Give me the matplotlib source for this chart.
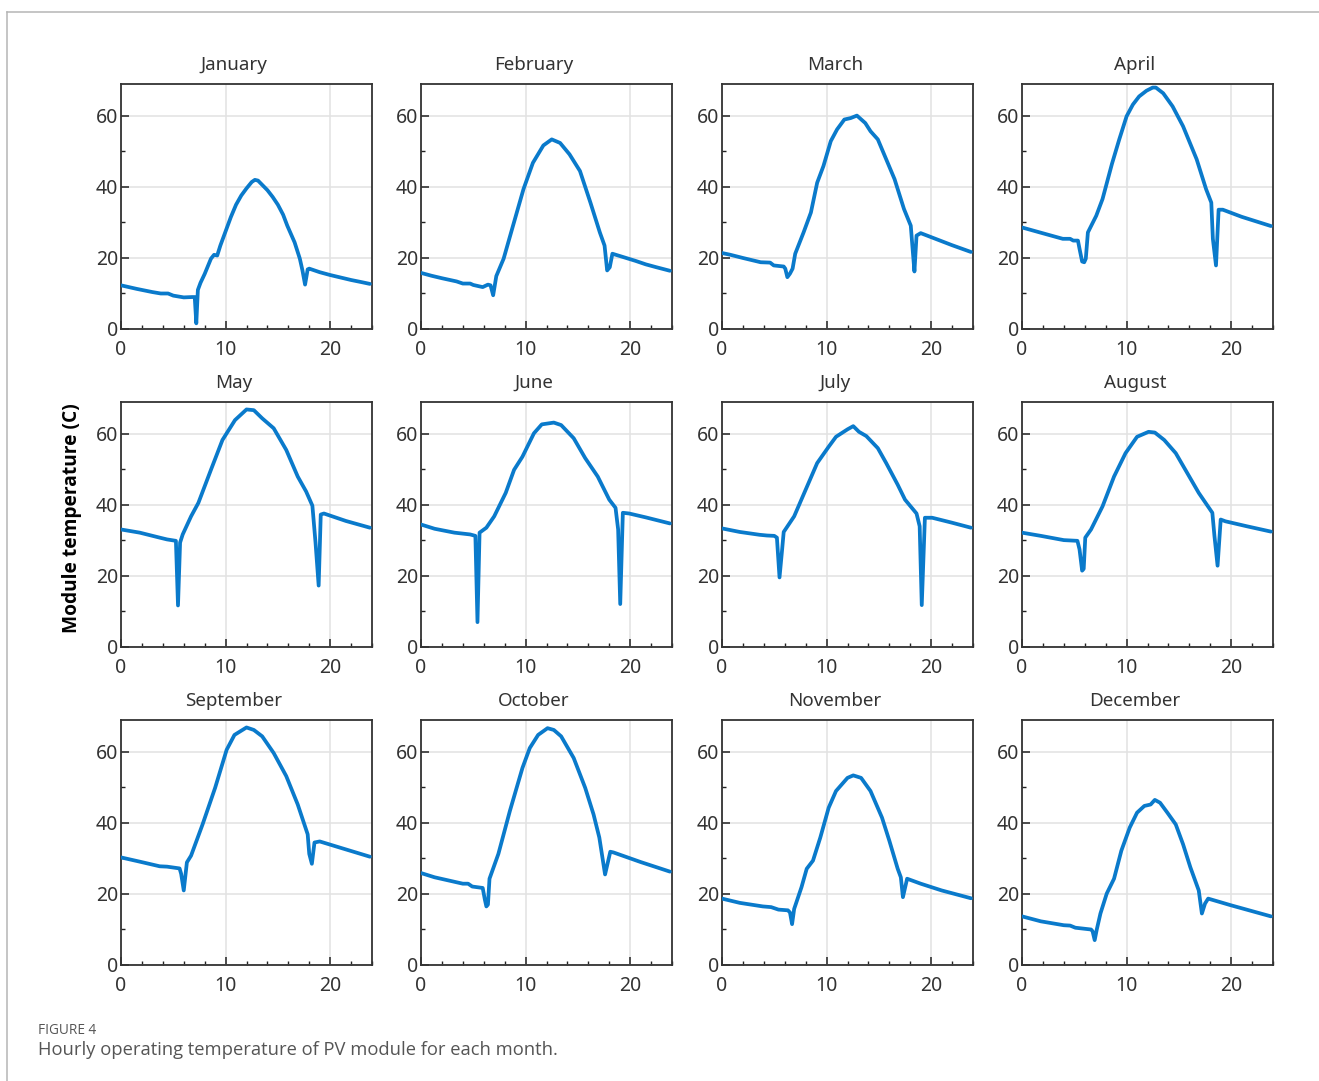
import matplotlib
matplotlib.use("Agg")
import matplotlib.pyplot as plt
from matplotlib.lines import Line2D
from matplotlib.ticker import MultipleLocator

# ---- hourly module temperature profiles (hour of day, deg C) ----
jan_h = [0, 1.5, 3.0, 3.8, 4.5, 5.0, 6.0, 6.8, 7.05, 7.2, 7.35, 7.6, 8.0, 8.6, 8.9, 9.2,
         9.5, 10.0, 10.5, 11.0, 11.5, 12.0, 12.5, 12.8, 13.1, 13.5, 14.0, 14.5, 15.0,
         15.5, 15.9, 16.6, 17.1, 17.35, 17.6, 17.85, 18.0, 19.0, 20.0, 21.0, 22.0, 23.0, 23.8]
jan_t = [12.3, 11.3, 10.4, 10.0, 10.0, 9.4, 8.9, 9.0, 9.0, 1.6, 11.0, 13.0, 15.5, 19.8, 20.9, 20.7,
         23.5, 27.5, 31.5, 35.0, 37.6, 39.6, 41.4, 42.0, 41.8, 40.6, 39.1, 37.2, 35.0,
         32.2, 29.1, 24.4, 19.8, 16.5, 12.5, 16.8, 17.0, 16.0, 15.2, 14.5, 13.8, 13.2, 12.7]

feb_h = [0, 1.0, 2.0, 3.4, 4.0, 4.7, 5.0, 5.9, 6.4, 6.65, 6.9, 7.2, 7.9, 8.8, 9.8, 10.7,
         11.7, 12.5, 13.3, 14.2, 15.2, 16.2, 17.1, 17.55, 17.8, 18.05, 18.3, 19.4, 20.5,
         21.5, 22.5, 23.8]
feb_t = [15.8, 15.0, 14.3, 13.4, 12.8, 12.8, 12.4, 11.8, 12.5, 12.3, 9.5, 14.9, 19.8, 29.1, 39.4, 46.8,
         51.7, 53.4, 52.4, 49.2, 44.5, 35.6, 27.2, 23.5, 16.5, 17.4, 21.2, 20.2, 19.2,
         18.2, 17.4, 16.4]

mar_h = [0, 0.8, 2.0, 3.7, 4.6, 4.95, 5.9, 6.05, 6.25, 6.5, 6.75, 7.0, 7.8, 8.5, 9.1, 9.7,
         10.4, 11.0, 11.7, 12.3, 12.9, 13.7, 14.2, 14.9, 15.5, 16.5, 17.4, 18.05, 18.2, 18.4,
         18.6, 19.0, 20.5, 22.0, 23.8]
mar_t = [21.4, 20.9, 20.0, 18.8, 18.7, 17.9, 17.6, 17.0, 14.6, 15.6, 17.0, 21.2, 27.2, 32.8, 41.2, 45.9,
         52.9, 56.2, 59.0, 59.4, 60.1, 58.0, 55.7, 53.4, 49.2, 42.2, 33.8, 29.1, 23.5, 16.2,
         26.3, 27.0, 25.3, 23.6, 21.7]

apr_h = [0, 1.7, 3.9, 4.6, 4.9, 5.35, 5.5, 5.75, 5.95, 6.1, 6.3, 7.1, 7.7, 8.6, 9.3, 10.0,
         10.6, 11.2, 11.9, 12.5, 12.8, 13.5, 14.4, 15.4, 16.7, 17.6, 18.1, 18.25, 18.55, 18.8,
         19.2, 21.0, 23.8]
apr_t = [28.6, 27.2, 25.4, 25.4, 24.9, 24.9, 22.6, 19.0, 18.8, 19.8, 27.2, 31.9, 36.6, 46.5, 53.4, 59.9,
         63.2, 65.5, 67.1, 68.0, 68.0, 66.4, 62.7, 57.1, 47.8, 39.4, 35.6, 25.4, 17.9, 33.6,
         33.6, 31.6, 29.0]

may_h = [0, 1.8, 3.7, 4.4, 5.25, 5.45, 5.65, 5.9, 6.7, 7.4, 8.6, 9.7, 10.9, 12.0, 12.7, 13.5,
         14.6, 15.8, 16.9, 17.7, 18.3, 18.6, 18.9, 19.1, 19.4, 21.5, 23.8]
may_t = [33.1, 32.2, 30.8, 30.3, 29.9, 11.7, 29.4, 31.7, 36.8, 40.6, 49.9, 58.3, 63.9, 66.9, 66.7, 64.4,
         61.6, 55.5, 48.0, 43.8, 39.8, 29.4, 17.3, 37.3, 37.6, 35.5, 33.6]

jun_h = [0, 1.3, 3.2, 4.7, 5.2, 5.4, 5.6, 6.25, 7.0, 8.1, 8.9, 9.7, 10.8, 11.55, 12.7, 13.4,
         14.6, 15.7, 16.9, 18.0, 18.6, 18.85, 19.05, 19.3, 19.9, 21.5, 23.8]
jun_t = [34.5, 33.3, 32.2, 31.7, 31.3, 7.0, 32.2, 33.6, 36.8, 43.4, 49.9, 53.6, 60.2, 62.7, 63.2, 62.5,
         58.8, 53.2, 48.0, 41.5, 39.2, 33.1, 12.1, 37.8, 37.6, 36.5, 34.8]

jul_h = [0, 1.7, 3.6, 4.3, 5.0, 5.25, 5.5, 5.75, 5.9, 6.9, 8.0, 9.1, 10.2, 10.9, 12.0, 12.55,
         13.1, 13.8, 14.9, 15.7, 16.8, 17.5, 18.6, 18.9, 19.1, 19.4, 20.1, 22.0, 23.8]
jul_t = [33.4, 32.4, 31.6, 31.4, 31.3, 30.8, 19.6, 27.5, 32.4, 36.8, 44.3, 51.8, 56.4, 59.2, 61.3, 62.2,
         60.6, 59.4, 56.0, 51.8, 45.7, 41.5, 37.6, 34.0, 11.8, 36.4, 36.4, 35.0, 33.6]

aug_h = [0, 1.8, 4.0, 5.3, 5.5, 5.75, 5.9, 6.05, 6.6, 7.7, 8.8, 9.9, 11.0, 12.1, 12.7, 13.6,
         14.7, 15.8, 16.9, 18.2, 18.4, 18.7, 19.0, 19.45, 21.5, 23.8]
aug_t = [32.2, 31.3, 30.1, 29.9, 27.5, 21.5, 22.0, 30.8, 33.1, 39.6, 48.0, 54.6, 59.2, 60.6, 60.4, 58.3,
         54.6, 49.0, 43.4, 37.8, 31.3, 22.9, 35.9, 35.4, 34.0, 32.5]

sep_h = [0, 1.8, 3.7, 4.4, 5.6, 5.75, 6.0, 6.3, 6.7, 7.8, 9.0, 10.1, 10.85, 12.0, 12.7, 13.5,
         14.6, 15.8, 16.9, 17.85, 18.0, 18.25, 18.5, 19.0, 21.0, 23.8]
sep_t = [30.3, 29.1, 27.8, 27.7, 27.2, 25.7, 21.0, 28.9, 30.8, 39.6, 49.9, 60.6, 64.8, 66.9, 66.2, 64.4,
         59.7, 53.2, 45.2, 36.8, 31.3, 28.5, 34.5, 34.8, 33.0, 30.5]

oct_h = [0, 1.3, 4.0, 4.5, 4.9, 5.9, 6.1, 6.25, 6.4, 6.55, 7.4, 8.5, 9.7, 10.4, 11.2, 12.1,
         12.7, 13.4, 14.6, 15.7, 16.5, 17.05, 17.6, 18.1, 18.4, 21.0, 23.8]
oct_t = [25.9, 24.7, 22.9, 22.9, 22.1, 21.7, 18.5, 16.5, 17.0, 24.3, 31.3, 43.4, 55.5, 61.1, 64.8, 66.7,
         66.2, 64.4, 58.3, 49.9, 42.4, 35.9, 25.5, 31.9, 31.7, 29.0, 26.3]

nov_h = [0, 1.7, 3.9, 4.7, 5.4, 6.3, 6.5, 6.7, 6.9, 7.6, 8.1, 8.7, 9.4, 10.2, 10.9, 12.0,
         12.55, 13.3, 14.2, 15.3, 16.0, 16.8, 17.1, 17.3, 17.7, 19.0, 21.0, 23.8]
nov_t = [18.7, 17.5, 16.5, 16.3, 15.6, 15.4, 14.8, 11.5, 15.8, 21.9, 27.1, 29.4, 35.9, 44.3, 49.0, 52.7,
         53.4, 52.7, 49.0, 41.5, 35.0, 27.1, 24.7, 19.1, 24.3, 22.9, 21.0, 18.8]

dec_h = [0, 1.8, 4.0, 4.6, 5.1, 6.6, 6.75, 6.95, 7.15, 7.5, 8.1, 8.8, 9.5, 10.3, 11.0, 11.7,
         12.3, 12.7, 13.2, 13.9, 14.7, 15.4, 16.1, 16.9, 17.2, 17.5, 17.8, 20.0, 23.8]
dec_t = [13.7, 12.3, 11.2, 11.1, 10.5, 10.0, 9.5, 7.0, 10.0, 14.5, 20.1, 24.3, 32.2, 38.7, 42.9, 44.8,
         45.2, 46.5, 45.7, 42.9, 39.6, 34.0, 27.5, 21.0, 14.5, 17.3, 18.7, 16.8, 13.7]

months = ["January", "February", "March", "April", "May", "June",
          "July", "August", "September", "October", "November", "December"]
hours = [jan_h, feb_h, mar_h, apr_h, may_h, jun_h, jul_h, aug_h, sep_h, oct_h, nov_h, dec_h]
temps = [jan_t, feb_t, mar_t, apr_t, may_t, jun_t, jul_t, aug_t, sep_t, oct_t, nov_t, dec_t]

x_ticks = [0, 10, 20]
y_ticks = [0, 20, 40, 60]

# ---- layout (pixels) ----
W, H = 1319, 1081
col_left = [121, 421, 722, 1022]
row_top = [84, 402, 720]
ax_w, ax_h = 251, 245

LINE_COLOR = "#0a7acb"
TEXT_COLOR = "#333333"
plt.rcParams["font.family"] = ["Noto Sans", "DejaVu Sans"]

fig = plt.figure(figsize=(W / 100, H / 100), dpi=100)
fig.patch.set_facecolor("white")

for i, (name, hx, ty) in enumerate(zip(months, hours, temps)):
    r, c = divmod(i, 4)
    left = col_left[c] / W
    bottom = 1 - (row_top[r] + ax_h) / H
    ax = fig.add_axes([left, bottom, ax_w / W, ax_h / H])
    ax.plot(hx, ty, color=LINE_COLOR, lw=2.7, solid_joinstyle="round",
            solid_capstyle="round", zorder=3)
    ax.set_xlim(0, 24)
    ax.set_ylim(0, 69)
    ax.set_xticks(x_ticks)
    ax.set_yticks(y_ticks)
    ax.xaxis.set_minor_locator(MultipleLocator(2))
    ax.yaxis.set_minor_locator(MultipleLocator(10))
    ax.grid(True, which="major", color="#e2e2e2", lw=1.1, zorder=0)
    ax.tick_params(which="both", direction="in", colors="#222222",
                   labelcolor=TEXT_COLOR, labelsize=14, top=False, right=False)
    ax.tick_params(which="major", length=6, width=1.1)
    ax.tick_params(which="minor", length=3, width=1.0)
    ax.tick_params(axis="x", pad=8)
    ax.tick_params(axis="y", pad=2)
    for sp in ax.spines.values():
        sp.set_color("#333333")
        sp.set_linewidth(1.3)
    # titles sit centred over the panel including its tick-label column
    ax.set_title(name, fontsize=13.5, color=TEXT_COLOR, pad=10, x=0.45)

fig.text(72 / W, 1 - 518 / H, "Module temperature (C)", rotation=90,
         ha="center", va="center", fontsize=13.8, fontweight="bold",
         color="black", family=["Open Sans", "DejaVu Sans"])

# caption
fig.text(38 / W, 1 - 1031 / H, "FIGURE 4", ha="left", va="center",
         fontsize=9.8, color="#555555", family=["Open Sans", "DejaVu Sans"])
fig.text(38 / W, 1 - 1050 / H, "Hourly operating temperature of PV module for each month.",
         ha="left", va="center", fontsize=13.2, color="#555555",
         family=["Open Sans", "DejaVu Sans"])

# thin page frame on the top and left edges
fig.add_artist(Line2D([6.5 / W, 1], [1 - 11.5 / H, 1 - 11.5 / H],
                      transform=fig.transFigure, color="#b5b5b5", lw=1.1))
fig.add_artist(Line2D([6.5 / W, 6.5 / W], [0, 1 - 11.5 / H],
                      transform=fig.transFigure, color="#b5b5b5", lw=1.1))

fig.savefig("out.png", dpi=100, facecolor="white")
